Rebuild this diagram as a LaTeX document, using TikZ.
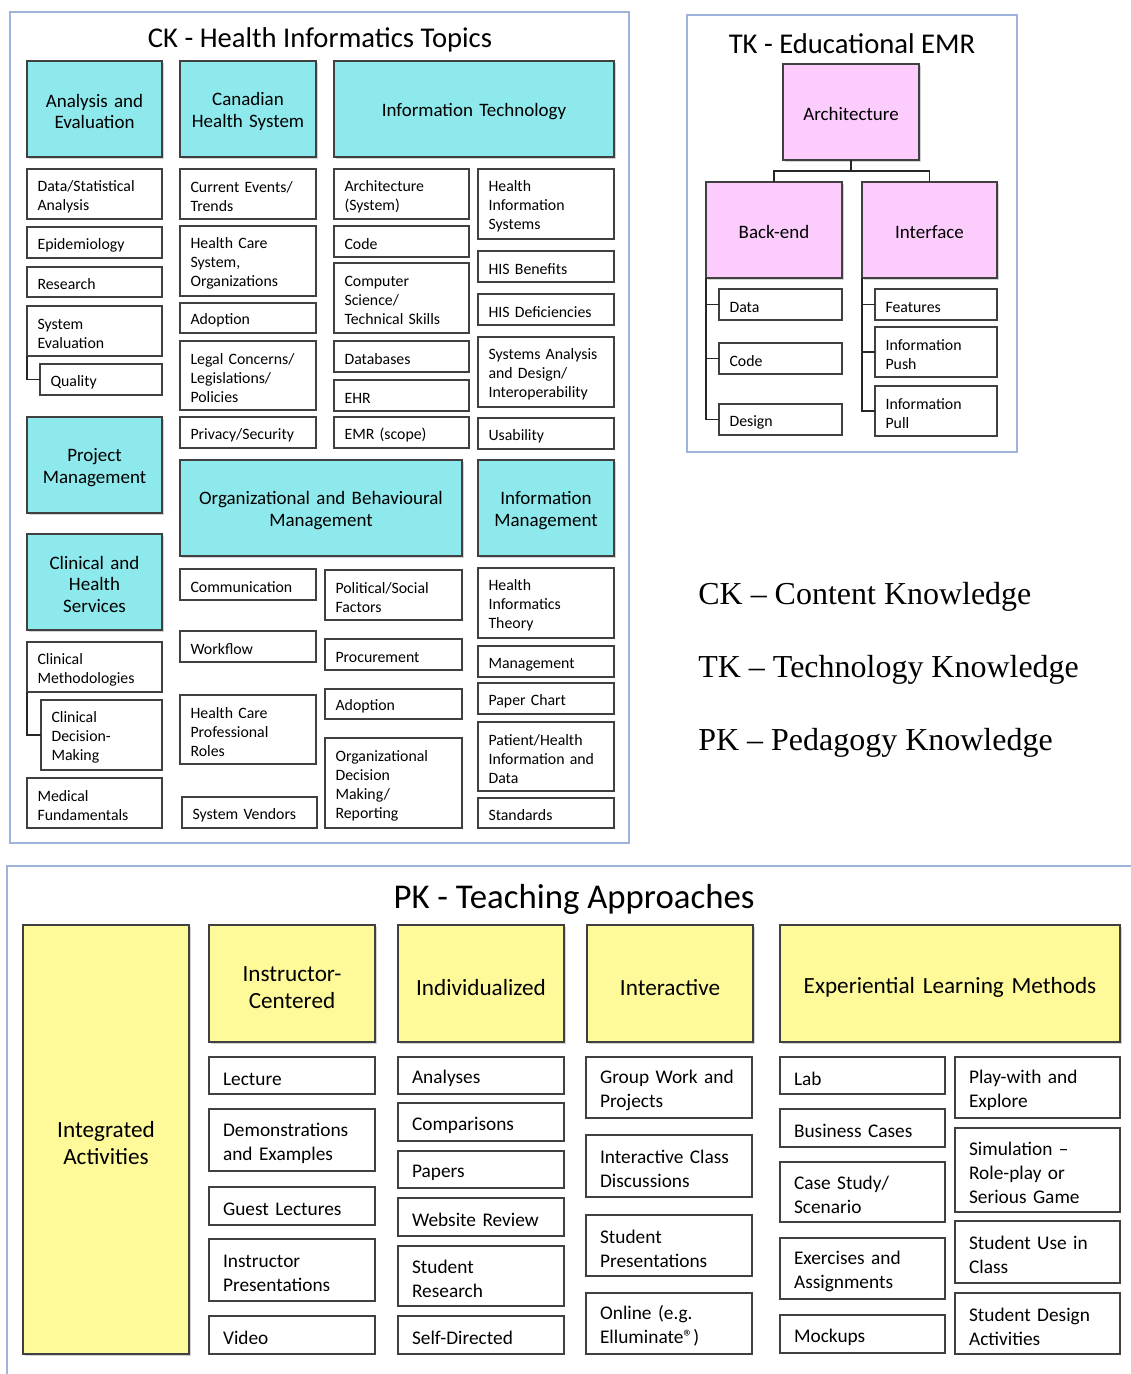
\documentclass[tikz,border=0pt]{standalone}
\usepackage{fontspec}
\setmainfont{Carlito}
\newfontfamily\keyfont{Liberation Serif}
\usetikzlibrary{shadows}

\definecolor{ckcyan}{RGB}{142,233,236}
\definecolor{tkpink}{RGB}{252,204,252}
\definecolor{pkyellow}{RGB}{254,250,153}
\definecolor{framecol}{RGB}{158,180,220}

\tikzset{
  box/.style={draw=black!75,line width=.8pt,anchor=north west,outer sep=0pt,inner ysep=0pt},
  shade/.style={drop shadow={shadow xshift=1.3pt,shadow yshift=-1.3pt,opacity=.35}},
  ckhead/.style={box,shade,fill=ckcyan,align=center,inner xsep=3pt,text height=10.3pt,font=\fontsize{10.8}{12.5}\selectfont},
  ckleaf/.style={box,fill=white,align=left,inner xsep=6pt,text height=9pt,font=\fontsize{9}{10.8}\selectfont},
  tkhead/.style={ckhead,fill=tkpink},
  pkhead/.style={box,shade,fill=pkyellow,align=center,inner xsep=3pt,text height=13.2pt,font=\fontsize{13.2}{15.3}\selectfont},
  pkleaf/.style={box,fill=white,align=left,inner xsep=8pt,text height=11pt,font=\fontsize{11}{13.6}\selectfont},
  frame/.style={draw=framecol,line width=1.2pt},
  ttl/.style={font=\fontsize{16.3}{18}\selectfont},
  link/.style={draw=black!85,line width=1pt},
  keytext/.style={anchor=west,inner sep=0pt,font=\keyfont\fontsize{18.2}{20}\selectfont}
}

% box from its corners in pixel units: [style]{name}{x1}{y1}{x2}{y2}{text}
\newcommand{\pbox}[7][ckleaf]{%
  \node[#1,minimum width={(#5-#3)*0.02cm},minimum height={(#6-#4)*0.02cm},
    text width={(#5-#3)*0.02cm-2*\pgfkeysvalueof{/pgf/inner xsep}}] (#2) at (#3,#4) {#7};}

\begin{document}
\begin{tikzpicture}[x=0.02cm,y=-0.02cm]
\useasboundingbox (0,0) rectangle (1131,1374);

% content knowledge
\draw[frame] (10,12) rectangle (629,843);
\node[ttl] (cktitle) at (320,40) {CK - Health Informatics Topics};
\pbox[ckhead]{anaeval}{27}{61}{162}{157}{Analysis and\\Evaluation}
\pbox[ckhead]{canhealth}{180}{61}{316}{157}{Canadian\\Health System}
\pbox[ckhead]{infotech}{334}{61}{614}{157}{Information Technology}
\pbox{datastat}{27}{169}{162}{219}{Data/Statistical\\Analysis}
\pbox{epidem}{27}{227}{162}{258}{Epidemiology}
\pbox{research}{27}{267}{162}{297}{Research}
\pbox{syseval}{27}{306}{162}{356}{System\\Evaluation}
\pbox{quality}{40}{364}{162}{395}{Quality}
\pbox[ckhead]{projman}{27}{417}{162}{513}{Project\\Management}
\pbox[ckhead]{clinhealth}{27}{534}{162}{630}{Clinical and\\Health\\Services}
\pbox{clinmeth}{27}{642}{162}{692}{Clinical\\Methodologies}
\pbox{clindec}{41}{700}{162}{770}{Clinical\\Decision-\\Making}
\pbox{medfund}{27}{778}{162}{828}{Medical\\Fundamentals}
\pbox{events}{180}{169}{316}{219}{Current Events/\\Trends}
\pbox{hcsystem}{180}{226}{316}{296}{Health Care\\System,\\Organizations}
\pbox{adoptca}{180}{303}{316}{333}{Adoption}
\pbox{legal}{180}{341}{316}{410}{Legal Concerns/\\Legislations/\\Policies}
\pbox{privacy}{180}{417}{316}{448}{Privacy/Security}
\pbox{archsys}{334}{169}{469}{219}{Architecture\\(System)}
\pbox{codeit}{334}{226}{469}{257}{Code}
\pbox{compsci}{334}{263}{469}{333}{Computer\\Science/\\Technical Skills}
\pbox{databases}{334}{341}{469}{372}{Databases}
\pbox{ehr}{334}{380}{469}{411}{EHR}
\pbox{emr}{334}{417}{469}{448}{EMR (scope)}
\pbox{his}{478}{169}{614}{239}{Health\\Information\\Systems}
\pbox{hisben}{478}{251}{614}{282}{HIS Benefits}
\pbox{hisdef}{478}{294}{614}{325}{HIS Deficiencies}
\pbox{sysanalysis}{478}{337}{614}{407}{Systems Analysis\\and Design/\\Interoperability}
\pbox{usability}{478}{418}{614}{449}{Usability}
\pbox[ckhead]{orgbeh}{180}{460}{462}{556}{Organizational and Behavioural\\Management}
\pbox[ckhead]{infoman}{478}{460}{614}{556}{Information\\Management}
\pbox{communication}{180}{569}{316}{600}{Communication}
\pbox{workflow}{180}{631}{316}{662}{Workflow}
\pbox{hcroles}{180}{695}{316}{764}{Health Care\\Professional\\Roles}
\pbox{vendors}{182}{797}{317}{828}{System Vendors}
\pbox{political}{325}{570}{462}{620}{Political/Social\\Factors}
\pbox{procurement}{325}{639}{462}{670}{Procurement}
\pbox{adoptorg}{325}{689}{462}{719}{Adoption}
\pbox{orgdecision}{325}{738}{462}{828}{Organizational\\Decision\\Making/\\Reporting}
\pbox{hitheory}{478}{568}{614}{638}{Health\\Informatics\\Theory}
\pbox{management}{478}{646}{614}{677}{Management}
\pbox{paperchart}{478}{683}{614}{714}{Paper Chart}
\pbox{patientdata}{478}{722}{614}{791}{Patient/Health\\Information and\\Data}
\pbox{standards}{478}{798}{614}{828}{Standards}
\draw[link] (syseval.south west) |- (quality.west);
\draw[link] (clinmeth.south west) |- (clindec.west);

% technology knowledge
\draw[frame] (687,15) rectangle (1017,452);
\node[ttl] (tktitle) at (852,44) {TK - Educational EMR};
\pbox[tkhead]{arch}{783}{64}{919}{160}{Architecture}
\pbox[tkhead]{backend}{706}{182}{842}{278}{Back-end}
\pbox[tkhead]{iface}{862}{182}{997}{278}{Interface}
\pbox{data}{719}{289}{842}{320}{Data}
\pbox{code}{719}{343}{842}{374}{Code}
\pbox{design}{719}{404}{842}{435}{Design}
\pbox{features}{875}{289}{997}{320}{Features}
\pbox{infopush}{875}{327}{997}{377}{Information\\Push}
\pbox{infopull}{875}{386}{997}{436}{Information\\Pull}
\coordinate (tkjoin) at (851,171);
\draw[link] (arch.south) -- (tkjoin) -| (backend.north);
\draw[link] (tkjoin) -| (iface.north);
\draw[link] (backend.south west) |- (data.west);
\draw[link] (backend.south west) |- (code.west);
\draw[link] (backend.south west) |- (design.west);
\draw[link] (iface.south west) |- (features.west);
\draw[link] (iface.south west) |- (infopush.west);
\draw[link] (iface.south west) |- (infopull.west);

% key
\node[keytext] (ckkey) at (698,597) {CK – Content Knowledge};
\node[keytext] (tkkey) at (698,670) {TK – Technology Knowledge};
\node[keytext] (pkkey) at (698,743) {PK – Pedagogy Knowledge};

% pedagogy knowledge
\begin{scope}
\clip (0,0) rectangle (1131,1374);
\draw[frame] (7,866) rectangle (1150,1400);
\end{scope}
\node[font=\fontsize{19.8}{22}\selectfont] (pktitle) at (574,899) {PK - Teaching Approaches};
\pbox[pkhead]{integrated}{23}{925}{189}{1354}{Integrated\\Activities}
\pbox[pkhead]{instructor}{209}{925}{375}{1042}{Instructor-\\Centered}
\pbox[pkhead]{individual}{398}{925}{564}{1042}{Individualized}
\pbox[pkhead]{interactive}{587}{925}{753}{1042}{Interactive}
\pbox[pkhead]{experiential}{780}{925}{1120}{1042}{Experiential Learning Methods}
\pbox[pkleaf]{lecture}{209}{1057}{375}{1094}{Lecture}
\pbox[pkleaf]{demos}{209}{1109}{375}{1171}{Demonstrations\\and Examples}
\pbox[pkleaf]{guest}{209}{1187}{375}{1225}{Guest Lectures}
\pbox[pkleaf]{instrpres}{209}{1239}{375}{1301}{Instructor\\Presentations}
\pbox[pkleaf]{video}{209}{1316}{375}{1354}{Video}
\pbox[pkleaf]{analyses}{398}{1057}{564}{1094}{Analyses}
\pbox[pkleaf]{comparisons}{398}{1103}{564}{1141}{Comparisons}
\pbox[pkleaf]{papers}{398}{1151}{564}{1188}{Papers}
\pbox[pkleaf]{website}{398}{1198}{564}{1236}{Website Review}
\pbox[pkleaf]{studresearch}{398}{1246}{564}{1306}{Student\\Research}
\pbox[pkleaf]{selfdir}{398}{1316}{564}{1354}{Self-Directed}
\pbox[pkleaf]{groupwork}{586}{1057}{752}{1118}{Group Work and\\Projects}
\pbox[pkleaf]{classdisc}{586}{1135}{752}{1197}{Interactive Class\\Discussions}
\pbox[pkleaf]{studpres}{586}{1215}{752}{1276}{Student\\Presentations}
\pbox[pkleaf]{online}{586}{1293}{752}{1354}{Online (e.g.\\Elluminate®)}
\pbox[pkleaf]{lab}{780}{1057}{945}{1094}{Lab}
\pbox[pkleaf]{business}{780}{1109}{945}{1147}{Business Cases}
\pbox[pkleaf]{casestudy}{780}{1162}{945}{1222}{Case Study/\\Scenario}
\pbox[pkleaf]{exercises}{780}{1238}{945}{1299}{Exercises and\\Assignments}
\pbox[pkleaf]{mockups}{780}{1315}{945}{1353}{Mockups}
\pbox[pkleaf]{playwith}{955}{1057}{1120}{1118}{Play-with and\\Explore}
\pbox[pkleaf]{simulation}{955}{1128}{1120}{1212}{Simulation –\\Role-play or\\Serious Game}
\pbox[pkleaf]{studuse}{955}{1221}{1120}{1283}{Student Use in\\Class}
\pbox[pkleaf]{studdesign}{955}{1293}{1120}{1354}{Student Design\\Activities}
\end{tikzpicture}
\end{document}
